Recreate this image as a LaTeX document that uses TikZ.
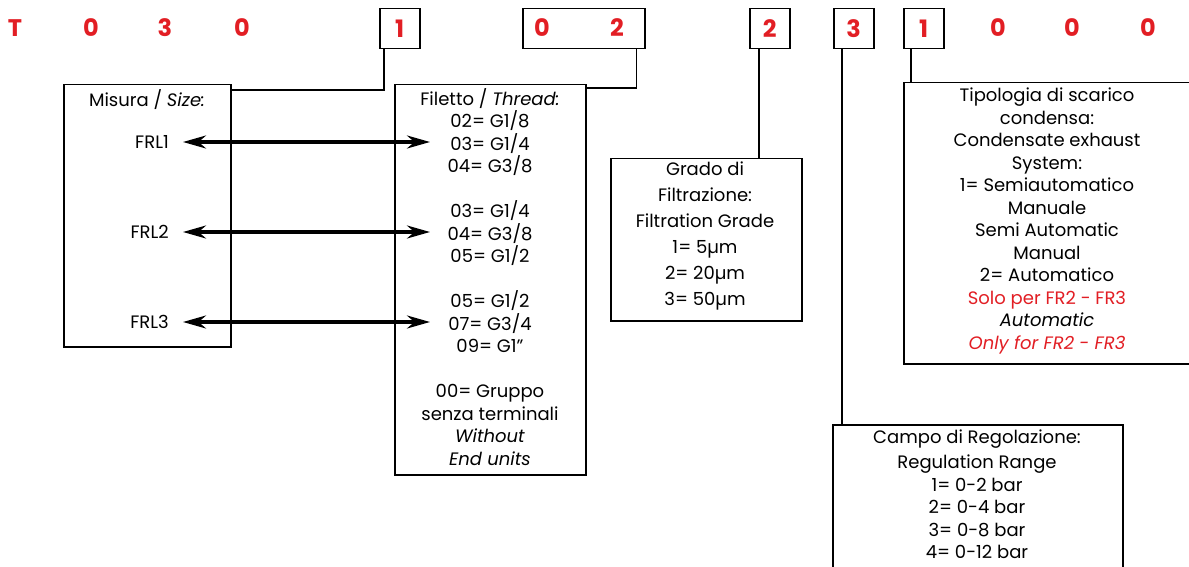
\documentclass[tikz,border=0pt]{standalone}
\usepackage{fontspec}
\setmainfont{Poppins}
\usetikzlibrary{arrows.meta,calc}
\definecolor{codered}{RGB}{226,30,36}
\begin{document}
\begin{tikzpicture}[x=1pt,y=-1pt,
  box/.style={draw, line width=1.5pt, inner sep=0, anchor=north west},
  code/.style={text=codered, font=\fontsize{24}{24}\selectfont\bfseries, inner sep=0, anchor=center},
  txt/.style={font=\fontsize{18}{22.5}\selectfont, align=center, inner sep=0, anchor=north},
  conn/.style={line width=1.5pt},
  dbl/.style={line width=3.2pt, {Stealth[length=23pt,width=13pt]}-{Stealth[length=23pt,width=13pt]}}]
\clip (0,0) rectangle (1189,567);
\fill[white] (0,0) rectangle (1189,567);

% code boxes
\node[box, minimum width=40pt, minimum height=40pt] (b1) at (379,8) {};
\node[box, minimum width=122pt, minimum height=40pt] (b02) at (522,8) {};
\node[box, minimum width=40pt, minimum height=40pt] (b2) at (749,8) {};
\node[box, minimum width=40pt, minimum height=40pt] (b3) at (833,8) {};
\node[box, minimum width=40pt, minimum height=40pt] (b1c) at (903,8) {};

% code letters
\node[code] (cT) at (15,28) {T};
\node[code] (c0a) at (91,28) {0};
\node[code] (c3) at (165,28) {3};
\node[code] (c0b) at (242,28) {0};
\node[code] (c1) at (b1.center) {1};
\node[code] (c0c) at (542,28) {0};
\node[code] (c2a) at (617,28) {2};
\node[code] (c2b) at (b2.center) {2};
\node[code] (c3b) at (b3.center) {3};
\node[code] (c1c) at (b1c.center) {1};
\node[code] (c0d) at (998,28) {0};
\node[code] (c0e) at (1072,28) {0};
\node[code] (c0f) at (1148,28) {0};

% description boxes
\node[box, minimum width=167pt, minimum height=262pt] (misura) at (63,84) {};
\node[box, minimum width=191pt, minimum height=390pt] (filetto) at (394,84) {};
\node[box, minimum width=191pt, minimum height=162pt] (grado) at (610,158) {};
\node[box, minimum width=300pt, minimum height=281pt] (tipo) at (903,82) {};
\node[box, minimum width=290pt, minimum height=160pt] (campo) at (832,424) {};

% connectors
\draw[conn] ([xshift=5pt]b1.south west) |- ([yshift=-6pt]misura.north east);
\draw[conn] ([xshift=-9pt]b02.south east) |- ([yshift=-4pt]filetto.north east);
\draw[conn] ([xshift=10pt]b2.south west) -- ([xshift=10pt]b2.south west |- grado.north);
\draw[conn] ([xshift=9pt]b3.south west) -- ([xshift=9pt]b3.south west |- campo.north);
\draw[conn] ([xshift=8pt]b1c.south west) -- ([xshift=8pt]b1c.south west |- tipo.north);

% Misura texts
\node[txt] (misuraT) at (147,89) {Misura / \textit{Size:}};
\node[txt, anchor=east] (frl1) at (169,142) {FRL1};
\node[txt, anchor=east] (frl2) at (169,232) {FRL2};
\node[txt, anchor=east] (frl3) at (169,322) {FRL3};

% Filetto texts
\node[txt] (filettoT) at (490,88) {Filetto / \textit{Thread:}\\
02= G1/8\\ 03= G1/4\\ 04= G3/8\\[22.5pt]
03= G1/4\\ 04= G3/8\\ 05= G1/2\\[22.5pt]
05= G1/2\\ 07= G3/4\\ 09= G1”\\[22.5pt]
00= Gruppo\\ senza terminali\\ \textit{Without}\\ \textit{End units}};

% arrow end points
\coordinate (a1l) at (183,142); \coordinate (a1r) at (430,142);
\coordinate (a2l) at (183,232); \coordinate (a2r) at (430,232);
\coordinate (a3l) at (183,322); \coordinate (a3r) at (430,322);
\draw[dbl] (a1l) -- (a1r);
\draw[dbl] (a2l) -- (a2r);
\draw[dbl] (a3l) -- (a3r);

% Grado texts
\node[txt, font=\fontsize{18}{26}\selectfont] (gradoT) at (705,162) {Grado di\\ Filtrazione:\\ Filtration Grade\\ 1= 5µm\\ 2= 20µm\\ 3= 50µm};

% Tipologia texts
\node[txt] (tipoT) at (1047,88) {Tipologia di scarico\\ condensa:\\ Condensate exhaust\\ System:\\ 1= Semiautomatico\\ Manuale\\ Semi Automatic\\ Manual\\ 2= Automatico\\
\textcolor{codered}{Solo per FR2 - FR3}\\ \textit{Automatic}\\ \textcolor{codered}{\textit{Only for FR2 - FR3}}};

% Campo texts
\node[txt] (campoT) at (977,430) {Campo di Regolazione:\\[2.5pt] Regulation Range\\ 1= 0-2 bar\\ 2= 0-4 bar\\ 3= 0-8 bar\\ 4= 0-12 bar};
\end{tikzpicture}
\end{document}
